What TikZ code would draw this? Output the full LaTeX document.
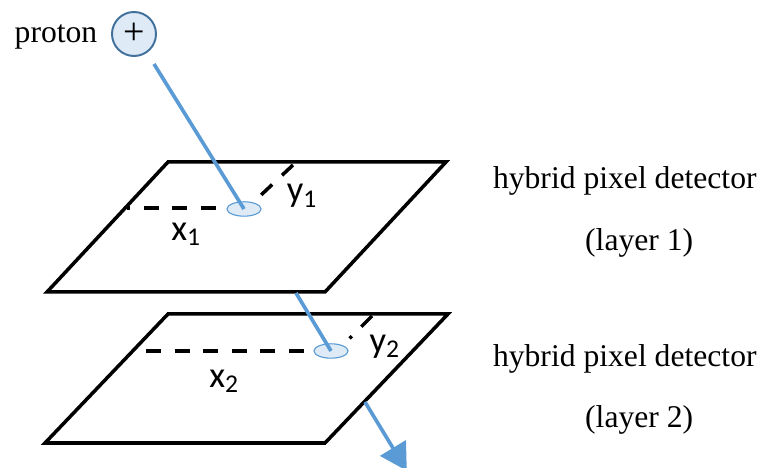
\documentclass[tikz,border=0pt]{standalone}
\usepackage{fontspec}
\setmainfont{Liberation Serif}
\newfontfamily\labelfont{Carlito}
\usepackage{tikz}
\usetikzlibrary{shapes.geometric,arrows.meta,positioning,calc}

\begin{document}
\begin{tikzpicture}[
    plate/.style={draw=black, line width=2.5pt, line join=miter},
    track/.style={draw=trackblue, line width=2.6pt},
    spot/.style={ellipse, draw=trackblue, fill=spotblue, line width=0.8pt, minimum width=0.85cm, minimum height=0.36cm, inner sep=0pt},
    particle/.style={circle, draw=particleedge, fill=spotblue, line width=1.4pt, minimum size=1.1cm, inner sep=0pt, font=\fontsize{27}{28}\selectfont},
    offset/.style={draw=black, line width=2.5pt, dash pattern=on 10.7pt off 9.6pt},
    caption/.style={font=\fontsize{22.5}{24}\selectfont, inner sep=0pt},
    coord/.style={font=\labelfont\fontsize{26}{28}\selectfont, inner sep=0pt}
]
\definecolor{trackblue}{HTML}{5B9BD5}
\definecolor{spotblue}{HTML}{DEEAF6}
\definecolor{particleedge}{HTML}{41719C}

\useasboundingbox (0,0) rectangle (19.075,11.7);

% Detector plates
\coordinate (p1a) at (4.2,7.65);
\coordinate (p1b) at (11.15,7.65);
\coordinate (p1c) at (8.125,4.4);
\coordinate (p1d) at (1.175,4.4);
\coordinate (p2a) at (4.2,3.85);
\coordinate (p2b) at (11.2,3.85);
\coordinate (p2c) at (8.125,0.625);
\coordinate (p2d) at (1.125,0.625);
\draw[plate] (p1a) -- (p1b) -- (p1c) -- (p1d) -- cycle;
\draw[plate] (p2a) -- (p2b) -- (p2c) -- (p2d) -- cycle;

% Proton & hit spots
\node[caption] (proton) at (1.4,10.78) {proton};
\node[particle] (charge) at (3.35,10.85) {+};
\node[spot] (spot1) at (6.1,6.475) {};
\node[spot] (spot2) at (8.275,2.925) {};

% Track end points
\coordinate (t1) at (3.85,10.1);
\coordinate (t2) at (7.4,4.375);
\coordinate (t3) at (9.125,1.65);
\coordinate (t4) at (10.17,-0.07);

% Offsets
\coordinate (x1a) at (3.175,6.5);
\coordinate (x1b) at (5.425,6.5);
\coordinate (y1a) at (7.325,7.575);
\coordinate (y1b) at (6.5,6.8);
\coordinate (x2a) at (3.65,2.925);
\coordinate (x2b) at (7.65,2.925);
\coordinate (y2a) at (9.3,3.8);
\coordinate (y2b) at (8.74,3.24);
\draw[offset, dash phase=8.5pt] (x1a) -- (x1b);
\draw[offset] (y1a) -- (y1b);
\draw[offset] (x2a) -- (x2b);
\draw[offset] (y2a) -- (y2b);

% Tracks
\draw[track] (t1) -- (spot1.center);
\draw[track] (t2) -- (spot2.center);
\draw[track, -{Triangle[length=19pt, width=21pt]}] (t3) -- (t4);

% Labels
\node[coord] (x1) at (4.65,5.85) {x\textsubscript{1}};
\node[coord] (y1) at (7.55,6.8) {y\textsubscript{1}};
\node[coord] (x2) at (5.6,2.17) {x\textsubscript{2}};
\node[coord] (y2) at (9.62,3.03) {y\textsubscript{2}};

\node[caption] (det1) at (15.62,7.18) {hybrid pixel detector};
\node[caption] (lay1) at (15.98,5.62) {(layer 1)};
\node[caption] (det2) at (15.62,2.72) {hybrid pixel detector};
\node[caption] (lay2) at (15.98,1.19) {(layer 2)};

\end{tikzpicture}
\end{document}
